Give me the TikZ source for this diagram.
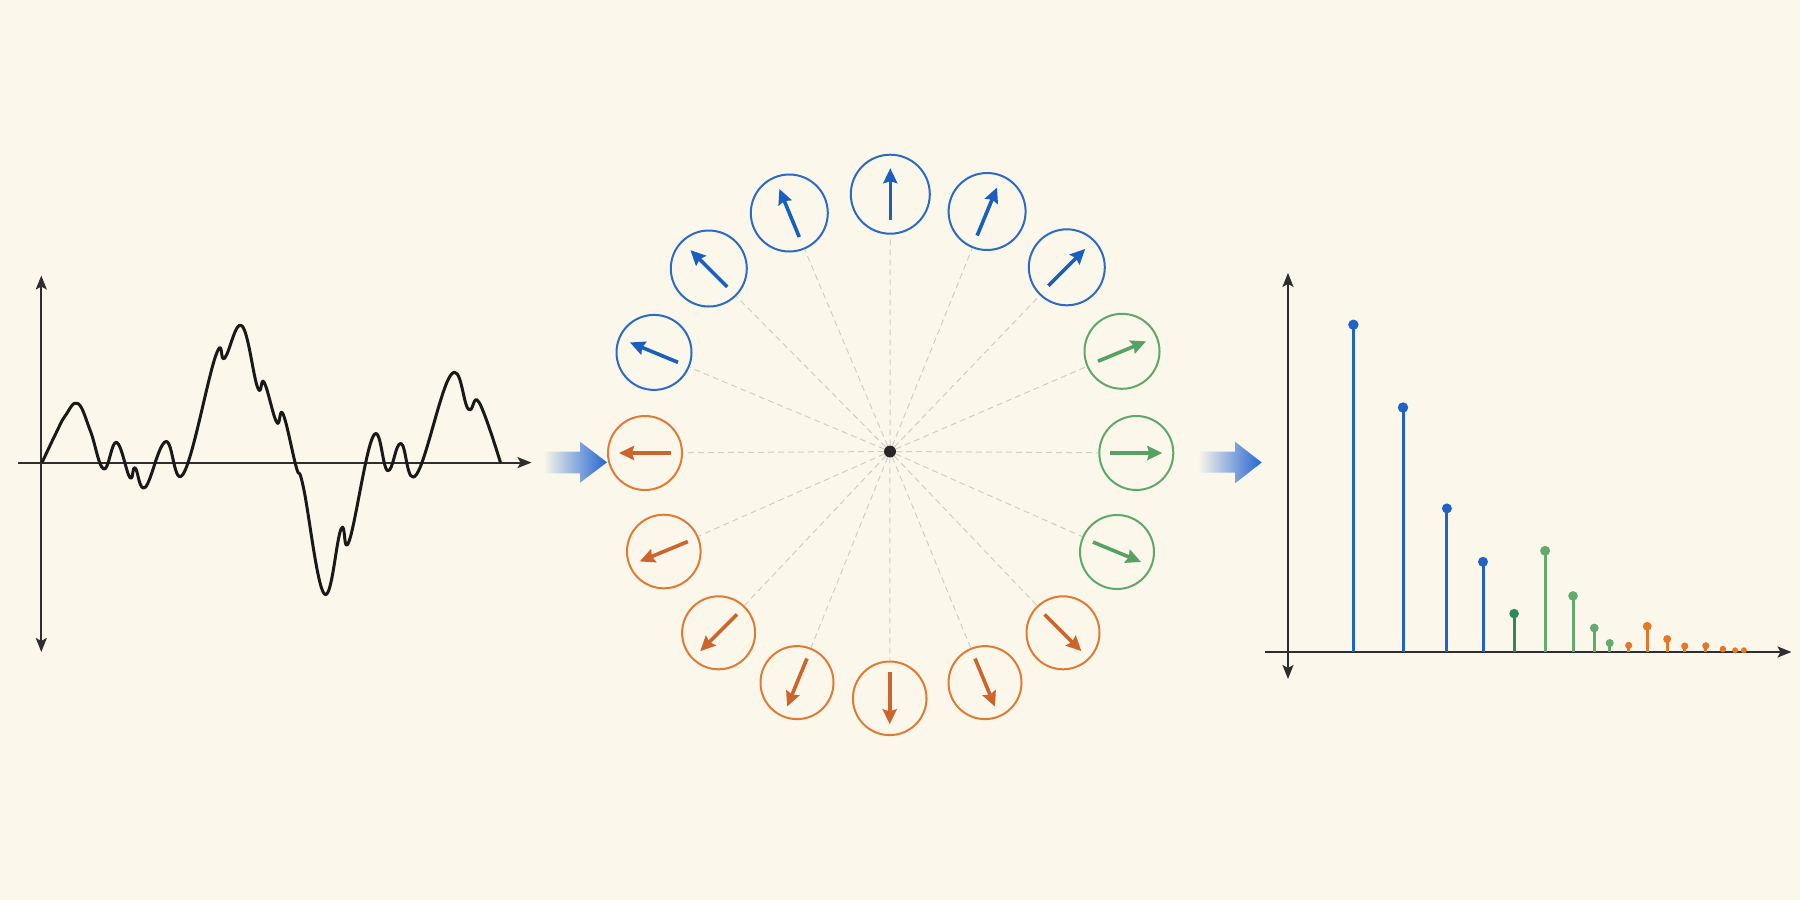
\documentclass[tikz,border=0pt]{standalone}
\usetikzlibrary{arrows.meta,calc}
\definecolor{bg}{HTML}{FBF7EA}
\definecolor{axisc}{HTML}{2E2E2E}
\definecolor{cblue}{HTML}{2B6AC6}
\definecolor{cblueA}{HTML}{1A5EC0}
\definecolor{corange}{HTML}{E07A35}
\definecolor{corangeA}{HTML}{CC652B}
\definecolor{cgreen}{HTML}{5FA86B}
\definecolor{cgreenA}{HTML}{55A263}
\definecolor{sblue}{HTML}{1F63C6}
\definecolor{sgreen}{HTML}{62AA6E}
\definecolor{sdgreen}{HTML}{2E8A5C}
\definecolor{sorange}{HTML}{E5772B}
\definecolor{gblue}{HTML}{2466D2}
\definecolor{spokec}{HTML}{CFCDC6}
\tikzset{
  axis/.style={draw=axisc, line width=2pt},
  axtip/.tip={Stealth[length=14pt,width=11pt,inset=3pt]},
  wave/.style={draw=black!90, line width=3pt, line join=round},
  ring/.style={circle, inner sep=0pt, line width=2pt, fill=none},
  vec/.style={line width=3.6pt, -{Stealth[length=15pt,width=14pt,inset=2pt]}},
  spoke/.style={draw=spokec, line width=1pt, dash pattern=on 6pt off 4pt},
  hub/.style={circle, fill=black!85, inner sep=0pt, minimum size=12pt},
  stemdot/.style={circle, inner sep=0pt},
  stemline/.style={line width=3pt},
}
\begin{document}
\begin{tikzpicture}[x=1pt,y=-1pt]
\fill[bg] (0,0) rectangle (1800,900);
\useasboundingbox (0,0) rectangle (1800,900);

% ---------- left: time signal ----------
\coordinate (ly1) at (41.3,652);
\coordinate (ly2) at (41.3,275.5);
\coordinate (lx1) at (18.4,462.6);
\coordinate (lx2) at (531.5,462.6);
\draw[axis,{axtip}-{axtip}] (ly1) -- (ly2);
\draw[axis,-{axtip}] (lx1) -- (lx2);
\draw[wave] plot[smooth, tension=0.7] coordinates {
 (42.0,462.6) (56.4,432.3) (65.3,415.7) (77.8,403.4) (90.3,430.7)
 (103.7,469.0) (116.5,442.3) (129.8,477.3) (135.1,467.9) (145.2,487.3)
 (165.7,441.6) (183.6,473.3) (215.7,355.8) (224.7,358.1) (241.9,325.8)
 (257.6,387.5) (264.2,382.4) (276.7,422.3) (283.1,414.1) (296.3,467.3)
 (303.4,487.3) (324.3,593.9) (341.1,528.9) (349.3,540.6) (373.3,436.0)
 (387.7,470.7) (400.9,443.4) (416.4,474.6) (451.0,374.7) (468.3,409.0)
 (479.1,402.4) (500.5,462.6)};

% ---------- gradient arrows ----------
\shade[left color=bg, right color=gblue]
  (543,451.7) -- (580,451.7) -- (580,441.7) -- (607,462.3) -- (580,482.7) -- (580,473.3) -- (543,473.3) -- cycle;
\shade[left color=bg, right color=gblue]
  (1198,451.7) -- (1235,451.7) -- (1235,441.7) -- (1261.7,462.5) -- (1235,483.3) -- (1235,472.7) -- (1198,472.7) -- cycle;

% ---------- centre: phasor wheel ----------
\node[hub] (hub) at (890,451.5) {};
\foreach \n/\x/\y/\a/\r/\c/\ac in {
 c90/890.3/194.2/90/39.5/cblue/cblueA,
 c67/987.1/211.5/67.5/38.5/cblue/cblueA,
 c45/1066.8/267.3/45/38/cblue/cblueA,
 c22/1122/351.3/22.5/37.5/cgreen/cgreenA,
 c0/1136.3/453/0/37/cgreen/cgreenA,
 cm22/1117/552/-22.5/37/cgreen/cgreenA,
 cm45/1063/632.8/-45/36.5/corange/corangeA,
 cm67/985/682.6/-67.5/36.5/corange/corangeA,
 cm90/889.7/698.3/-90/36.8/corange/corangeA,
 cm112/797/682.6/-112.5/36.5/corange/corangeA,
 cm135/718.6/632.8/-135/36.5/corange/corangeA,
 cm157/663.8/551.5/-157.5/36.8/corange/corangeA,
 c180/645/453/180/37/corange/corangeA,
 c157/654/352.4/157.5/37.5/cblue/cblueA,
 c135/708.8/268.5/135/38/cblue/cblueA,
 c112/789.3/213/112.5/38.5/cblue/cblueA}
{
 \node[ring, draw=\c, minimum size=2*\r] (\n) at (\x,\y) {};
 \draw[spoke] (hub) -- (\n);
 \coordinate (\n-t) at ($(\n)+({-26*cos(\a)},{26*sin(\a)})$);
 \coordinate (\n-h) at ($(\n)+({26*cos(\a)},{-26*sin(\a)})$);
 \draw[vec, draw=\ac, fill=\ac] (\n-t) -- (\n-h);
}

% ---------- right: spectrum ----------
\coordinate (ry1) at (1288,679);
\coordinate (ry2) at (1288,272.9);
\coordinate (rx1) at (1264.9,652);
\coordinate (rx2) at (1791.5,652);
\draw[axis,{axtip}-{axtip}] (ry1) -- (ry2);
\draw[axis,-{axtip}] (rx1) -- (rx2);
\foreach \i/\x/\y/\r/\c in {
 1/1353.4/324.7/5.2/sblue,
 2/1403.0/407.5/5.2/sblue,
 3/1446.9/508.4/5.0/sblue,
 4/1483.0/561.8/5.0/sblue,
 5/1514.1/613.6/4.8/sdgreen,
 6/1545.1/550.8/5.0/sgreen,
 7/1573.0/595.9/4.8/sgreen,
 8/1594.3/628.0/4.4/sgreen,
 9/1609.7/643.0/4.0/sgreen,
 10/1628.7/645.4/3.6/sorange,
 11/1647.2/626.3/4.4/sorange,
 12/1667.2/639.1/4.0/sorange,
 13/1684.7/646.1/3.6/sorange,
 14/1705.8/645.8/3.6/sorange,
 15/1722.9/649.1/3.3/sorange,
 16/1735.1/650.3/3.0/sorange,
 17/1743.9/650.3/3.0/sorange}
{
 \coordinate (sb\i) at (\x,652);
 \node[stemdot, fill=\c, minimum size=2*\r] (st\i) at (\x,\y) {};
 \draw[stemline, draw=\c] (sb\i) -- (st\i.center);
}
\end{tikzpicture}
\end{document}
